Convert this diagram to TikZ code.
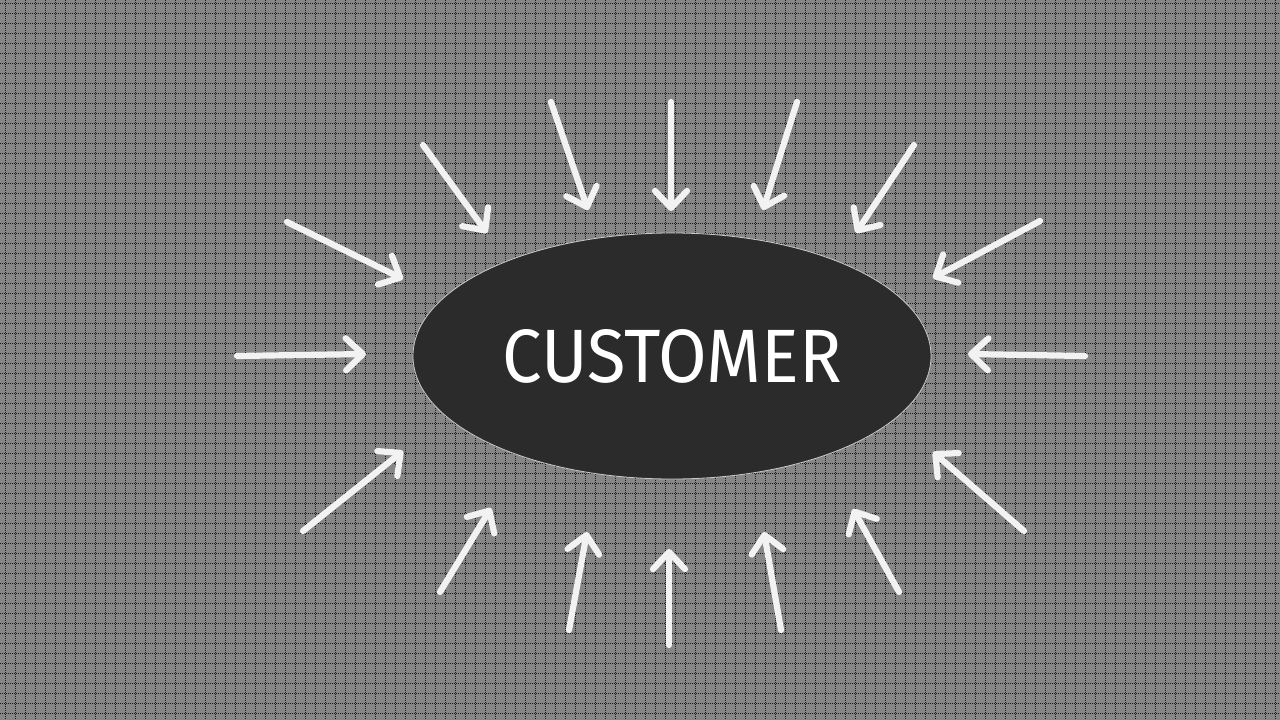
\documentclass[tikz,border=0pt]{standalone}
\usepackage{fontspec}
\usetikzlibrary{arrows.meta,shapes.geometric}
\newfontfamily\custfont{Fira Sans}
\definecolor{bggray}{HTML}{868686}
\definecolor{gridc}{HTML}{1A1A1A}
\definecolor{ellfill}{HTML}{2B2B2B}
\definecolor{ellline}{HTML}{C8C8C8}
\definecolor{arrc}{HTML}{F2F2F2}
\tikzset{
  gridline/.style={gridc, line width=0.9pt, dash pattern=on 1pt off 1pt},
  inarrow/.style={arrc, line width=6.2pt, line cap=round,
    -{Straight Barb[round, length=17pt, width=32pt]}},
  bubble/.style={ellipse, fill=ellfill, draw=ellline, line width=0.8pt,
    minimum width=518pt, minimum height=246pt, inner sep=0pt},
}
\begin{document}
\begin{tikzpicture}[x=1pt,y=-1pt]
\useasboundingbox (0,0) rectangle (1280,720);
\fill[bggray] (0,0) rectangle (1280,720);
\foreach \gx in {5,15,...,1275} { \draw[gridline] (\gx,0) -- (\gx,720); }
\foreach \gy in {3,13,...,713} { \draw[gridline] (0,\gy) -- (1280,\gy); }
\node[bubble] (cust) at (672,356) {};
\node[text=white, inner sep=0pt] (label) at (672.5,356) {\resizebox{339pt}{53pt}{\custfont CUSTOMER}};
% arrow end points
\coordinate (t1) at (237,356);  \coordinate (h1) at (366,354);
\coordinate (t2) at (287,222);  \coordinate (h2) at (403,279);
\coordinate (t3) at (423,145);  \coordinate (h3) at (487,233);
\coordinate (t4) at (551,102);  \coordinate (h4) at (588,210);
\coordinate (t5) at (671,102);  \coordinate (h5) at (671,211);
\coordinate (t6) at (797,102);  \coordinate (h6) at (763,210);
\coordinate (t7) at (914,145);  \coordinate (h7) at (856,233);
\coordinate (t8) at (1040,221); \coordinate (h8) at (933,278);
\coordinate (t9) at (1085,356); \coordinate (h9) at (968,354);
\coordinate (t10) at (1024,531); \coordinate (h10) at (933,452);
\coordinate (t11) at (899,592); \coordinate (h11) at (853,509);
\coordinate (t12) at (781,630); \coordinate (h12) at (764,532);
\coordinate (t13) at (669,645); \coordinate (h13) at (669,549);
\coordinate (t14) at (569,630); \coordinate (h14) at (587,532);
\coordinate (t15) at (440,592); \coordinate (h15) at (491,508);
\coordinate (t16) at (303,531); \coordinate (h16) at (403,451);
\foreach \i in {1,...,16} { \draw[inarrow] (t\i) -- (h\i); }
\end{tikzpicture}
\end{document}
